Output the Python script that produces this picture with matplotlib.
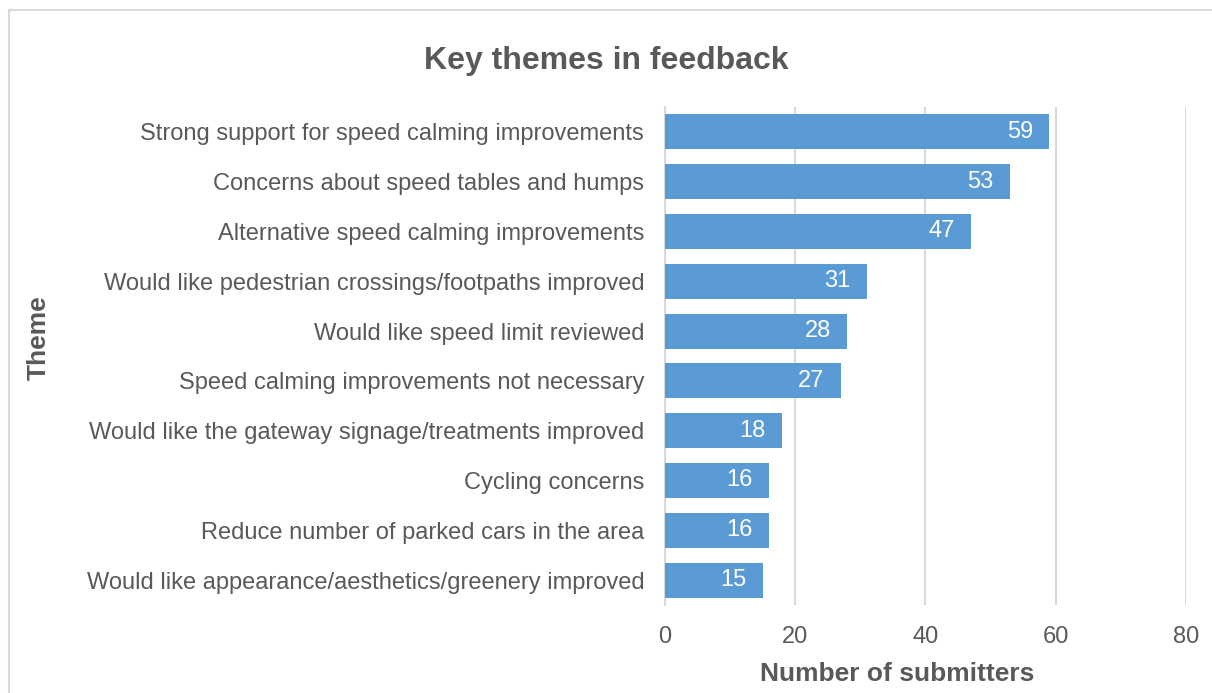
import matplotlib.pyplot as plt
from matplotlib.patches import Rectangle

themes = [
    "Strong support for speed calming improvements",
    "Concerns about speed tables and humps",
    "Alternative speed calming improvements",
    "Would like pedestrian crossings/footpaths improved",
    "Would like speed limit reviewed",
    "Speed calming improvements not necessary",
    "Would like the gateway signage/treatments improved",
    "Cycling concerns",
    "Reduce number of parked cars in the area",
    "Would like appearance/aesthetics/greenery improved",
]
submitters = [59, 53, 47, 31, 28, 27, 18, 16, 16, 15]
xticks = [0, 20, 40, 60, 80]

plt.rcParams['font.family'] = ['Liberation Sans', 'DejaVu Sans']
grey = '#595959'

fig = plt.figure(figsize=(12.12, 6.93), dpi=100)
ax = fig.add_axes([0.5487, 0.127, 0.4298, 0.7186])

y = list(range(len(themes)))
ax.barh(y, submitters, height=0.7, color='#5B9BD5', zorder=3)
for yi, v in zip(y, submitters):
    ax.text(v - 2.5, yi, str(v), ha='right', va='center', color='white', fontsize=17, zorder=4)

ax.set_ylim(len(themes) - 0.5, -0.5)
ax.set_xlim(0, 80)
ax.set_xticks(xticks)
ax.set_yticks(y)
ax.set_yticklabels(themes)
ax.tick_params(axis='both', length=0, labelsize=17, labelcolor=grey)
ax.tick_params(axis='y', pad=15)
ax.tick_params(axis='x', pad=15)
ax.grid(axis='x', color='#D9D9D9', linewidth=1.5, zorder=0)
for s in ['top', 'right', 'bottom']:
    ax.spines[s].set_visible(False)
ax.spines['left'].set_color('#D9D9D9')
ax.spines['left'].set_linewidth(1.5)

ax.set_xlabel('Number of submitters', fontsize=19, fontweight='bold', color=grey, labelpad=12)
ax.xaxis.set_label_coords(0.446, -0.115)
fig.text(0.032, 0.513, 'Theme', rotation=90, ha='center', va='center', fontsize=19, fontweight='bold', color=grey)
fig.text(0.5, 0.912, 'Key themes in feedback', ha='center', va='center', fontsize=23, fontweight='bold', color=grey)

fig.patches.append(Rectangle((9 / 1212, -0.05), 1.1, 1 - 10 / 693 + 0.05, transform=fig.transFigure,
                             fill=False, edgecolor='#D9D9D9', linewidth=1.5))

fig.savefig('out.png', dpi=100)
